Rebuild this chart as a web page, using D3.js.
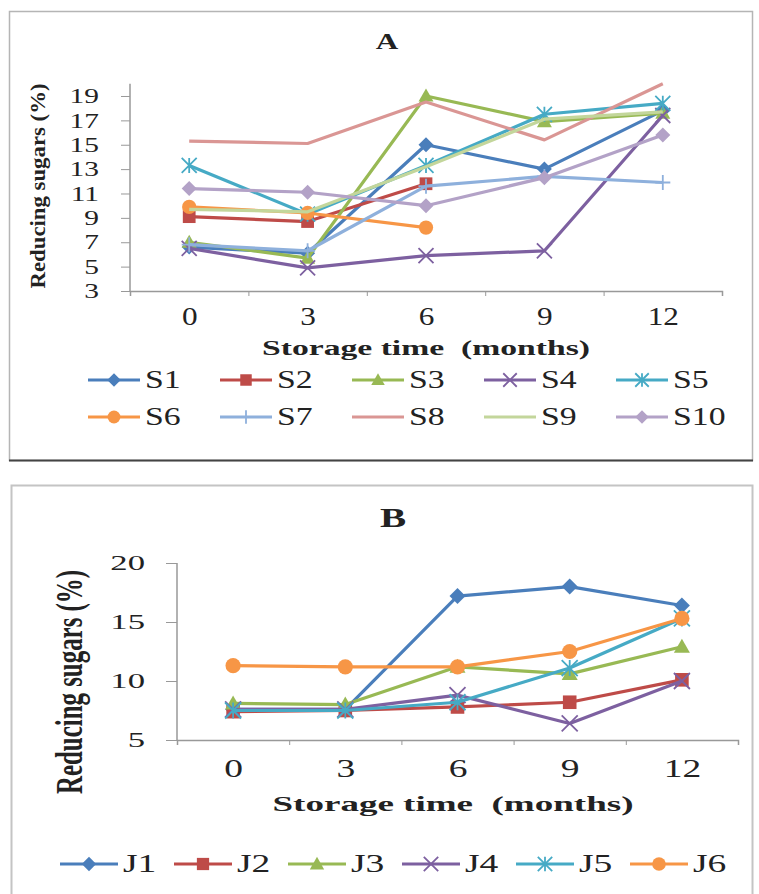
<!DOCTYPE html>
<html>
<head>
<meta charset="utf-8">
<script src="https://cdn.jsdelivr.net/npm/d3@7"></script>
<style>
  body { margin: 0; background: #fff; }
  text { font-family: "Liberation Serif", "Times New Roman", serif; fill: #222; }
</style>
</head>
<body>
<script>
const months = [0, 3, 6, 9, 12]

// panel A
const namesA = ["S1", "S2", "S3", "S4", "S5", "S6", "S7", "S8", "S9", "S10"]
const s1 = [6.6, 6.1, 15.0, 13.0, 17.8]
const s2 = [9.1, 8.7, 11.8, null, null]
const s3 = [7.0, 5.7, 19.0, 16.9, 17.6]
const s4 = [6.5, 4.9, 5.9, 6.3, 17.4]
const s5 = [13.3, 9.3, 13.3, 17.5, 18.4]
const s6 = [9.9, 9.4, 8.2, null, null]
const s7 = [6.8, 6.3, 11.6, 12.4, 11.9]
const s8 = [15.3, 15.1, 18.5, 15.4, 20.0]
const s9 = [9.7, 9.5, 13.2, 17.1, 17.7]
const s10 = [11.4, 11.1, 10.0, 12.3, 15.8]
const ticksA = [3, 5, 7, 9, 11, 13, 15, 17, 19]

// panel B
const namesB = ["J1", "J2", "J3", "J4", "J5", "J6"]
const j1 = [7.6, 7.6, 17.2, 18.0, 16.4]
const j2 = [7.4, 7.5, 7.8, 8.2, 10.1]
const j3 = [8.1, 8.0, 11.2, 10.6, 12.9]
const j4 = [7.6, 7.6, 8.8, 6.4, 10.0]
const j5 = [7.5, 7.5, 8.2, 11.1, 15.3]
const j6 = [11.3, 11.2, 11.2, 12.5, 15.3]
const ticksB = [5, 10, 15, 20]

const colors = ["#4a7ebb", "#be4b48", "#98b954", "#7d60a0", "#46aac5", "#f79646",
                "#8eb0dc", "#da9694", "#c3d69b", "#b3a2c7"]
const markers = ["diamond", "square", "triangle", "x", "star", "circle", "plus", null, null, "diamond"]

const W = 759, H = 894
const svg = d3.select("body").append("svg").attr("width", W).attr("height", H)

// stretch text horizontally like the scanned figure
function stretch(sel, ratio) {
    sel.each(function() {
        let w = this.getComputedTextLength()
        d3.select(this).attr("textLength", w * ratio).attr("lengthAdjust", "spacingAndGlyphs")
    })
}

function marker(g, type, s, color) {
    if (!type) return
    if (type == "diamond") {
        g.append("path").attr("d", `M0,${-s}L${s},0L0,${s}L${-s},0Z`).attr("fill", color)
    } else if (type == "square") {
        g.append("rect").attr("x", -s * 0.85).attr("y", -s * 0.85)
            .attr("width", s * 1.7).attr("height", s * 1.7).attr("fill", color)
    } else if (type == "triangle") {
        g.append("path").attr("d", `M0,${-s}L${s},${s * 0.75}L${-s},${s * 0.75}Z`).attr("fill", color)
    } else if (type == "circle") {
        g.append("circle").attr("r", s * 0.95).attr("fill", color)
    } else {
        let d = ""
        if (type == "x" || type == "star") d += `M${-s},${-s}L${s},${s}M${-s},${s}L${s},${-s}`
        if (type == "star") d += `M0,${-s}L0,${s}`
        if (type == "plus") d += `M${-s},0L${s},0M0,${-s}L0,${s}`
        g.append("path").attr("d", d).attr("stroke", color).attr("stroke-width", 1.8).attr("fill", "none")
    }
}

function panel(p) {
    const g = svg.append("g")

    const x = d3.scaleLinear().domain([-1.5, 13.5]).range(p.xRange)
    const y = d3.scaleLinear().domain(p.yDomain).range(p.yRange)

    // axes
    const yAxis = g.append("g")
        .attr("transform", `translate(${p.xRange[0]},0)`)
        .call(d3.axisLeft(y).tickValues(p.yTicks).tickSize(p.yTickSize).tickPadding(p.yPad))
    yAxis.select(".domain").attr("stroke", "#999").attr("stroke-width", 1.5)
        .attr("d", `M0,${y(p.yDomain[1])}V${p.yRange[0]}`)
    yAxis.selectAll(".tick line").attr("stroke", "#999")
    yAxis.selectAll(".tick text").attr("font-size", p.yFont)
        .attr("font-family", "Liberation Serif").attr("fill", "#2a2a2a").call(stretch, p.yStretch)

    const xb = g.append("g")
        .attr("transform", `translate(0,${p.yRange[0]})`)
        .call(d3.axisBottom(x).tickValues([-1.5, 1.5, 4.5, 7.5, 10.5, 13.5]).tickSize(5).tickFormat(""))
    xb.select(".domain").attr("stroke", "#999").attr("stroke-width", 1.5)
    xb.selectAll(".tick line").attr("stroke", "#999")

    const xl = g.append("g")
        .attr("transform", `translate(0,${p.yRange[0]})`)
        .call(d3.axisBottom(x).tickValues(months).tickSize(0).tickPadding(0))
    xl.select(".domain").remove()
    xl.selectAll(".tick text").attr("font-size", p.xFont).attr("font-family", "Liberation Serif")
        .attr("fill", "#2a2a2a").attr("dy", null).attr("y", p.xLabelY - p.yRange[0])
        .call(stretch, p.xStretch)

    // titles
    g.append("text").attr("x", p.title[1]).attr("y", p.title[2]).attr("text-anchor", "middle")
        .attr("font-weight", "bold").attr("font-size", p.title[3]).text(p.title[0])
        .call(stretch, p.title[4])
    g.append("text").attr("x", p.xTitle[0]).attr("y", p.xTitle[1]).attr("text-anchor", "middle")
        .attr("font-weight", "bold").attr("font-size", p.xTitle[2]).attr("xml:space", "preserve")
        .text("Storage time  (months)")
        .attr("textLength", p.xTitle[3]).attr("lengthAdjust", "spacingAndGlyphs")
    g.append("text")
        .attr("transform", `translate(${p.yTitle[0]},${p.yTitle[1]}) scale(${p.yTitle[4]},1) rotate(-90)`)
        .attr("text-anchor", "middle").attr("dy", "0.33em")
        .attr("font-weight", "bold").attr("font-size", p.yTitle[2])
        .text("Reducing sugars (%)")
        .attr("textLength", p.yTitle[3]).attr("lengthAdjust", "spacingAndGlyphs")

    // series
    const line = d3.line().defined(d => d != null)
        .x((d, i) => x(months[i])).y(d => y(d))
    p.series.forEach((vals, k) => {
        g.append("path").datum(vals).attr("d", line)
            .attr("fill", "none").attr("stroke", colors[k]).attr("stroke-width", 3.2)
            .attr("stroke-linejoin", "round")
        vals.forEach((v, i) => {
            if (v == null) return
            const m = g.append("g").attr("transform", `translate(${x(months[i])},${y(v)})`)
            marker(m, markers[k], p.mSize, colors[k])
        })
    })

    // legend
    p.names.forEach((n, k) => {
        const row = Math.floor(k / p.perRow), col = k % p.perRow
        const lx = p.legX + col * p.legStep, ly = p.legY + row * p.legRowH
        g.append("line").attr("x1", lx).attr("x2", lx + p.legLen).attr("y1", ly).attr("y2", ly)
            .attr("stroke", colors[k]).attr("stroke-width", 3.2)
        const m = g.append("g").attr("transform", `translate(${lx + p.legLen / 2},${ly})`)
        marker(m, markers[k], p.mSize * 0.9, colors[k])
        g.append("text").attr("x", lx + p.legLen + 5).attr("y", ly + 8)
            .attr("font-size", p.legFont).attr("fill", "#2a2a2a").text(n)
            .call(stretch, p.legStretch)
    })
}

// panel frames
svg.append("rect").attr("x", 9.5).attr("y", 11.5).attr("width", 743).attr("height", 449)
    .attr("fill", "none").attr("stroke", "#b5b5b5").attr("stroke-width", 1.5)
svg.append("line").attr("x1", 9).attr("x2", 753).attr("y1", 460.5).attr("y2", 460.5)
    .attr("stroke", "#444").attr("stroke-width", 2)
svg.append("rect").attr("x", 11.5).attr("y", 485.5).attr("width", 741).attr("height", 430)
    .attr("fill", "none").attr("stroke", "#c4c4c4").attr("stroke-width", 2)

panel({
    series: [s1, s2, s3, s4, s5, s6, s7, s8, s9, s10], names: namesA,
    xRange: [130, 722], yDomain: [3, 20], yRange: [291, 83.8], yTicks: ticksA,
    yTickSize: 9, yPad: 22, yFont: 21, yStretch: 1.4,
    xFont: 25, xStretch: 1.25, xLabelY: 325,
    title: ["A", 387, 49, 24, 1.3],
    xTitle: [426, 355, 21, 328],
    yTitle: [38, 186, 22, 205, 1],
    mSize: 7.5,
    perRow: 5, legX: 88, legStep: 132, legY: 380, legRowH: 37, legLen: 52,
    legFont: 25, legStretch: 1.35
})

panel({
    series: [j1, j2, j3, j4, j5, j6], names: namesB,
    xRange: [177, 738], yDomain: [5, 20], yRange: [740, 563], yTicks: ticksB,
    yTickSize: 11, yPad: 21, yFont: 21, yStretch: 1.65,
    xFont: 25, xStretch: 1.5, xLabelY: 777,
    title: ["B", 393, 527, 28, 1.4],
    xTitle: [453, 811, 22, 361],
    yTitle: [70, 682, 25, 224, 1.5],
    mSize: 8,
    perRow: 6, legX: 60, legStep: 114, legY: 864, legRowH: 0, legLen: 58,
    legFont: 25, legStretch: 1.5
})
</script>
</body>
</html>
